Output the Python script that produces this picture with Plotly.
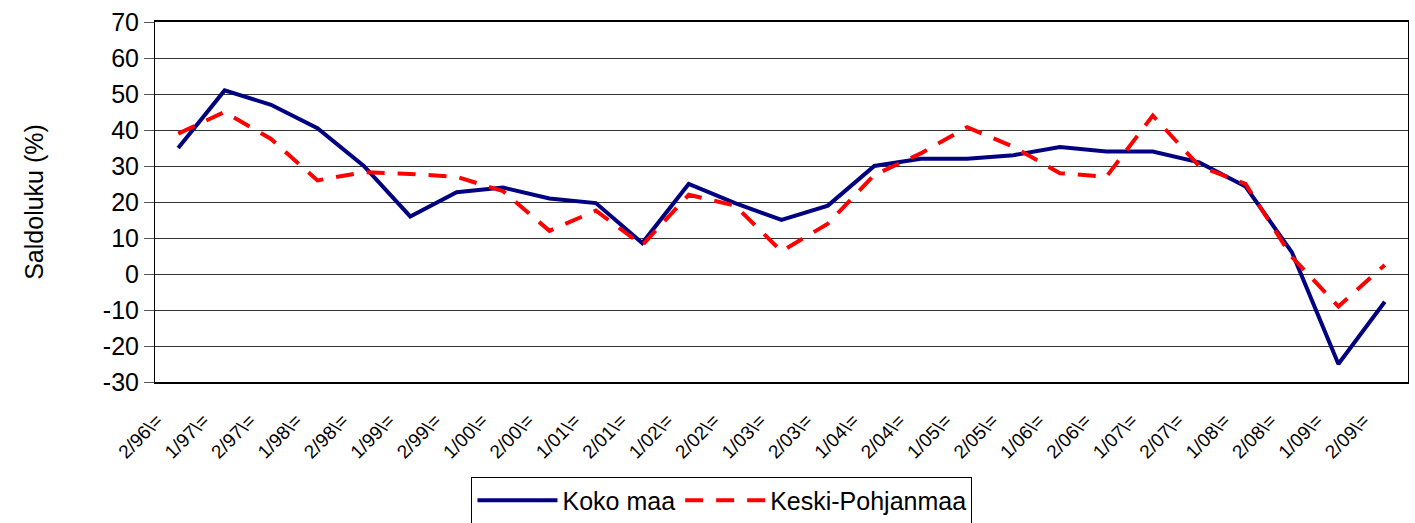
import plotly.graph_objects as go

periods = ["2/96", "1/97", "2/97", "1/98", "2/98", "1/99", "2/99", "1/00", "2/00",
           "1/01", "2/01", "1/02", "2/02", "1/03", "2/03", "1/04", "2/04", "1/05",
           "2/05", "1/06", "2/06", "1/07", "2/07", "1/08", "2/08", "1/09", "2/09"]
labels = [p + "\\=" for p in periods]

koko_maa = [35, 51, 47, 40.5, 30, 16, 22.7, 24, 21, 19.7, 8.6, 25, 19.7, 15, 19,
            30, 32, 32, 33, 35.3, 34, 34, 31, 24.3, 6, -25, -7.7]
keski_pohjanmaa = [39, 45, 37.5, 26, 28.3, 27.8, 27, 23, 12, 17.6, 8, 22, 19, 6.3, 14,
                   27.5, 33.5, 40.8, 35.3, 28, 27, 44, 30, 25, 4.7, -9, 2.5]

y_ticks = [-30, -20, -10, 0, 10, 20, 30, 40, 50, 60, 70]
y_ticktext = [str(v) for v in y_ticks]  # plain hyphen minus like the original

fig = go.Figure()
fig.add_trace(go.Scatter(x=labels, y=koko_maa, mode="lines", name="Koko maa",
                         line=dict(color="#000080", width=4)))
fig.add_trace(go.Scatter(x=labels, y=keski_pohjanmaa, mode="lines", name="Keski-Pohjanmaa",
                         line=dict(color="#FF0000", width=4, dash="18px,13px")))

# figure is a bit taller than the window so the legend box runs off the bottom edge
fig.update_layout(
    width=1415, height=540,
    margin=dict(l=155, r=7, t=22, b=158),
    paper_bgcolor="white", plot_bgcolor="white",
    font=dict(family="Liberation Sans, Arial, sans-serif", color="black"),
    showlegend=True,
    legend=dict(orientation="h", x=0.4525, xanchor="center", y=-0.2625, yanchor="top",
                font=dict(size=25), bordercolor="black", borderwidth=1,
                itemwidth=80, tracegroupgap=0),
)
fig.update_xaxes(type="category", tickangle=-45, tickfont=dict(size=19),
                 showgrid=False, showline=True, linecolor="black", linewidth=2,
                 mirror=True, ticks="", range=[-0.5, len(labels) - 0.5],
                 automargin=False, ticklabelstandoff=18, ticklabelshift=-21)
fig.update_yaxes(range=[-30, 70], tickvals=y_ticks, ticktext=y_ticktext,
                 tickfont=dict(size=25), ticklabeloverflow="allow",
                 title=dict(text="Saldoluku (%)", font=dict(size=25), standoff=52),
                 showgrid=True, gridcolor="#333333", gridwidth=1,
                 showline=True, linecolor="black", linewidth=1, mirror=True,
                 ticks="outside", ticklen=10, tickcolor="#555555", zeroline=False,
                 automargin=False)

fig.write_html(
    "out.html",
    config={"displayModeBar": False},
    post_script="document.body.style.margin='0';"
                "document.documentElement.style.overflow='hidden';"
                "document.body.style.overflow='hidden';",
)
